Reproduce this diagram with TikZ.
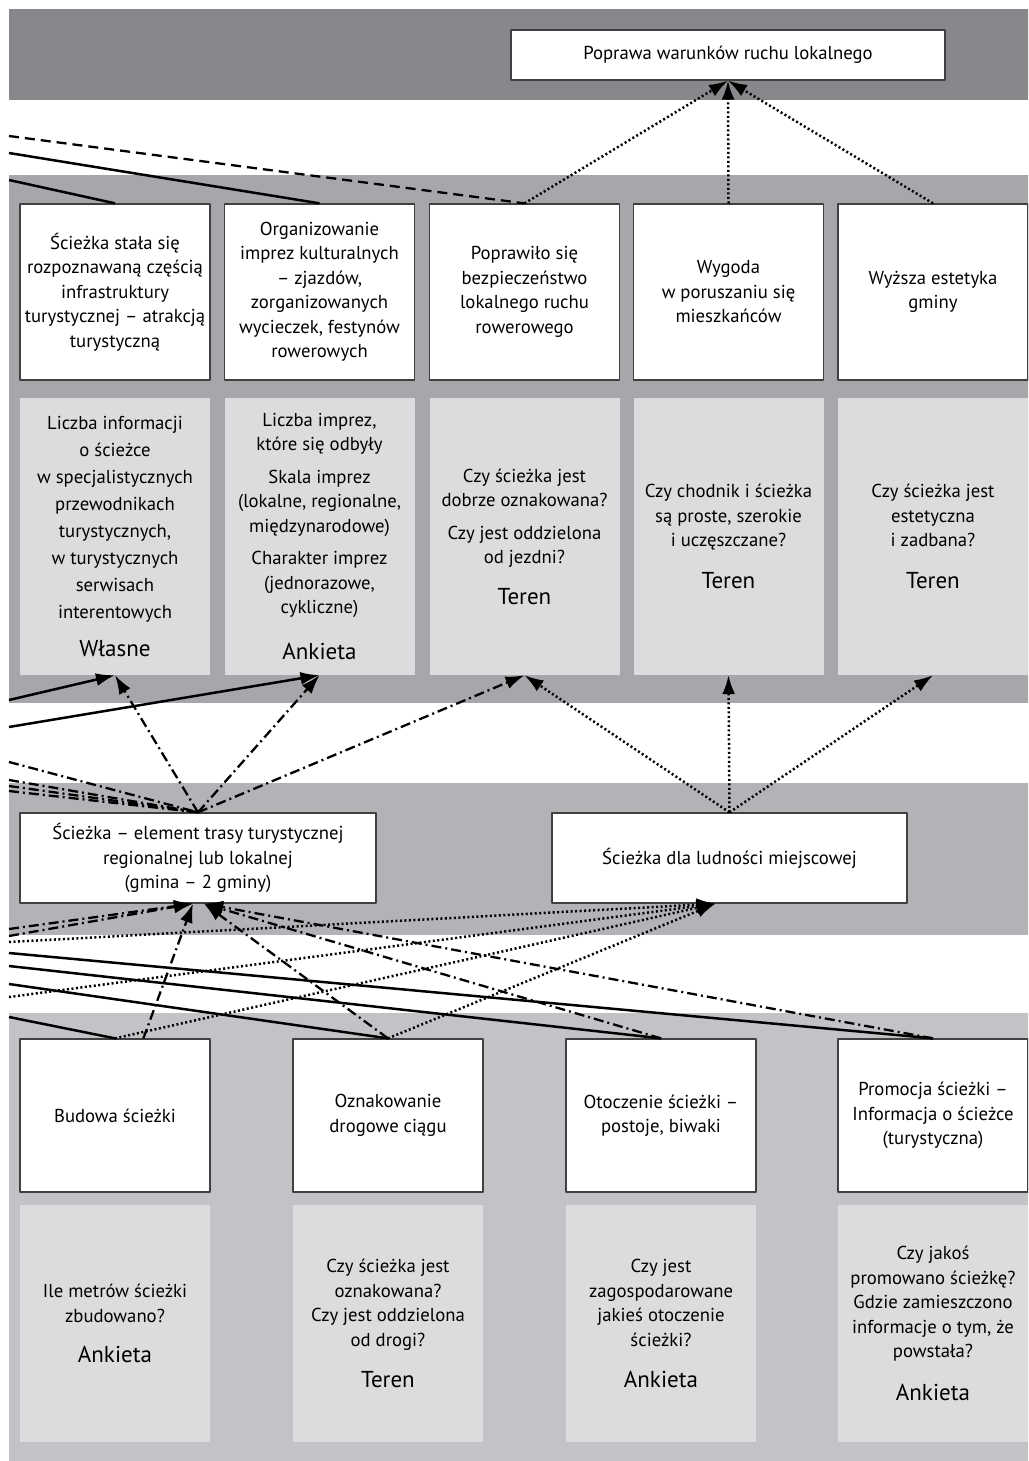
\documentclass[tikz,border=0pt]{standalone}
\usepackage{fontspec}
\setmainfont{PT Sans}
\usepackage{tikz}
\usetikzlibrary{arrows.meta}

\definecolor{pasA}{HTML}{87888C}
\definecolor{pasB}{HTML}{A6A7AB}
\definecolor{pasC}{HTML}{B2B3B6}
\definecolor{pasD}{HTML}{C2C3C6}
\definecolor{jasny}{HTML}{DBDCDE}

\tikzset{
  solidline/.style={line width=2.5pt},
  dashline/.style={line width=2.3pt, dash pattern=on 10pt off 6pt},
  dotline/.style={line width=2.5pt, dash pattern=on 2pt off 2.5pt},
  dashdotline/.style={line width=2.3pt, dash pattern=on 10pt off 4pt on 2pt off 4pt},
  grot/.style={-{Latex[length=19pt,width=13pt]}},
}
\newcommand{\metoda}[1]{{\fontsize{23}{28}\selectfont #1}}

\begin{document}
\begin{tikzpicture}[x=1pt, y=-1pt, line join=round]
  \useasboundingbox (0,0) rectangle (1028,1461);
  \clip (0,0) rectangle (1028,1461);

  \fill[pasA] (9,9) rectangle (1040,100);
  \fill[pasB] (9,175) rectangle (1040,703);
  \fill[pasC] (9,783) rectangle (1040,935);
  \fill[pasD] (9,1013) rectangle (1040,1470);

\begin{scope}[every node/.style={draw=black!75, line width=1.3pt, fill=white, align=center, inner sep=1pt, font=\fontsize{18.7}{24.5}\selectfont}]
  \node[minimum width=434pt, minimum height=50pt] (top) at (728,55) {Poprawa warunków ruchu lokalnego};

  \begin{scope}[every node/.append style={minimum width=190pt, minimum height=176pt}]
  \node (s1) at (115,292) {Ścieżka stała się\\rozpoznawaną częścią\\infrastruktury\\turystycznej – atrakcją\\turystyczną};
  \node (s2) at (319.5,292) {Organizowanie\\imprez kulturalnych\\– zjazdów,\\zorganizowanych\\wycieczek, festynów\\rowerowych};
  \node (s3) at (524.5,292) {Poprawiło się\\bezpieczeństwo\\lokalnego ruchu\\rowerowego};
  \node (s4) at (728.5,292) {Wygoda\\w poruszaniu się\\mieszkańców};
  \node (s5) at (933,292) {Wyższa estetyka\\gminy};
  \end{scope}

  \node[minimum width=356pt, minimum height=90pt] (e) at (198,858) {Ścieżka – element trasy turystycznej\\regionalnej lub lokalnej\\(gmina – 2 gminy)};
  \node[minimum width=355pt, minimum height=90pt] (l) at (729.5,858) {Ścieżka dla ludności miejscowej};

  \begin{scope}[every node/.append style={minimum width=190pt, minimum height=153pt}]
  \node (d1) at (115,1115.5) {Budowa ścieżki};
  \node (d2) at (388,1115.5) {Oznakowanie\\drogowe ciągu};
  \node (d3) at (661,1115.5) {Otoczenie ścieżki –\\postoje, biwaki};
  \node (d4) at (933,1115.5) {Promocja ścieżki –\\Informacja o ścieżce\\(turystyczna)};
  \end{scope}
\end{scope}

\begin{scope}[every node/.style={fill=jasny, align=center, inner sep=1pt, minimum width=190pt, font=\fontsize{18.7}{24.5}\selectfont}]
  \begin{scope}[every node/.append style={minimum height=277pt}]
  \node[font=\fontsize{18.7}{27}\selectfont] (w1) at (115,536.5) {Liczba informacji\\o ścieżce\\w specjalistycznych\\przewodnikach\\turystycznych,\\w turystycznych\\serwisach\\interentowych\\[11pt]\metoda{Własne}};
  \node (w2) at (319.5,536.5) {Liczba imprez,\\które się odbyły\\[8pt]Skala imprez\\(lokalne, regionalne,\\międzynarodowe)\\[8pt]Charakter imprez\\(jednorazowe,\\cykliczne)\\[21pt]\metoda{Ankieta}};
  \node (w3) at (524.5,536.5) {Czy ścieżka jest\\dobrze oznakowana?\\[8pt]Czy jest oddzielona\\od jezdni?\\[16pt]\metoda{Teren}};
  \node (w4) at (728.5,536.5) {Czy chodnik i ścieżka\\są proste, szerokie\\i uczęszczane?\\[17pt]\metoda{Teren}};
  \node (w5) at (933,536.5) {Czy ścieżka jest\\estetyczna\\i zadbana?\\[17pt]\metoda{Teren}};
  \end{scope}

  \begin{scope}[every node/.append style={minimum height=237pt}]
  \node (m1) at (115,1323.5) {Ile metrów ścieżki\\zbudowano?\\[16pt]\metoda{Ankieta}};
  \node (m2) at (388,1323.5) {Czy ścieżka jest\\oznakowana?\\Czy jest oddzielona\\od drogi?\\[17pt]\metoda{Teren}};
  \node (m3) at (661,1323.5) {Czy jest\\zagospodarowane\\jakieś otoczenie\\ścieżki?\\[17pt]\metoda{Ankieta}};
  \node (m4) at (933,1323.5) {Czy jakoś\\promowano ścieżkę?\\Gdzie zamieszczono\\informacje o tym, że\\powstała?\\[18pt]\metoda{Ankieta}};
  \end{scope}
\end{scope}

  % loose ends running off to the left
  \coordinate (a1) at (9,136);
  \coordinate (a2) at (9,153);
  \coordinate (a3) at (9,180);
  \coordinate (b1) at (9,700);
  \coordinate (b2) at (9,727);
  \coordinate (c1) at (9,762);
  \coordinate (c2) at (9,780);
  \coordinate (c3) at (9,786);
  \coordinate (c4) at (9,791);
  \coordinate (f1) at (9,929);
  \coordinate (f2) at (9,936);
  \coordinate (g1) at (9,942);
  \coordinate (g2) at (9,997);
  \coordinate (h1) at (9,953);
  \coordinate (h2) at (9,966);
  \coordinate (h3) at (9,984);
  \coordinate (h4) at (9,1017);

  \draw[dashline] (a1) -- (s3.north);
  \draw[solidline] (a2) -- (s2.north);
  \draw[solidline] (a3) -- (s1.north);
  \draw[dotline, grot] (s3.north) -- (top.south);
  \draw[dotline, grot] (s4.north) -- (top.south);
  \draw[dotline, grot] (s5.north) -- (top.south);

  \draw[solidline, grot] (b1) -- (w1.south);
  \draw[solidline, grot] (b2) -- (w2.south);
  \draw[dashdotline, grot] (e.north) -- (w1.south);
  \draw[dashdotline, grot] (e.north) -- (w2.south);
  \draw[dashdotline, grot] (e.north) -- (w3.south);
  \draw[dotline, grot] (l.north) -- (w3.south);
  \draw[dotline, grot] (l.north) -- (w4.south);
  \draw[dotline, grot] (l.north) -- (w5.south);
  \foreach \k in {c1,c2,c3,c4}
    \draw[dashdotline] (\k) -- (e.north);

  \foreach \k in {f1,f2,d1}
    \draw[dashdotline, grot] (\k) -- ([xshift=-5pt]e.south);
  \foreach \k in {d2,d3,d4}
    \draw[dashdotline, grot] (\k.north) -- ([xshift=6pt]e.south);
  \foreach \k in {g1,g2,d1.north,d2.north}
    \draw[dotline, grot] (\k) -- ([xshift=-14pt]l.south);
  \draw[solidline] (d1.north) -- (h4);
  \draw[solidline] (d2.north) -- (h3);
  \draw[solidline] (d3.north) -- (h2);
  \draw[solidline] (d4.north) -- (h1);
\end{tikzpicture}
\end{document}
